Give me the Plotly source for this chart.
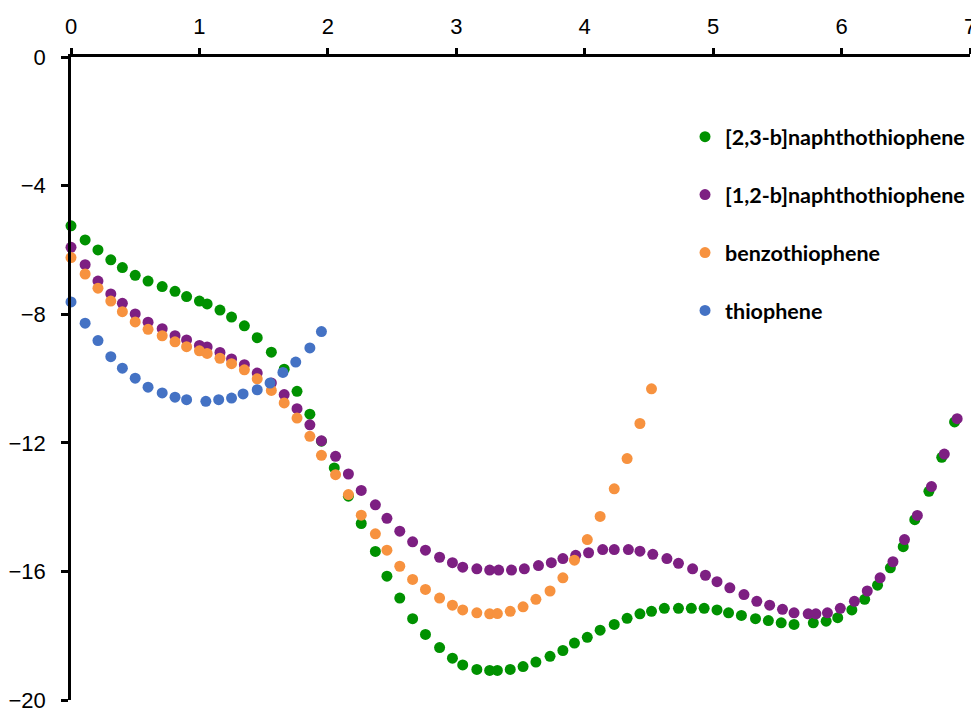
import plotly.graph_objects as go

names = ["[2,3-b]naphthothiophene", "[1,2-b]naphthothiophene", "benzothiophene", "thiophene"]
colors = ["#009100", "#7D1F82", "#F7923F", "#4472C4"]

x_common = [0, 0.11, 0.21, 0.31, 0.40, 0.50, 0.60, 0.71, 0.81, 0.90, 1.00, 1.06, 1.16, 1.25,
            1.35, 1.45, 1.56, 1.66, 1.76, 1.86]

x_n23 = x_common + [1.95, 2.05, 2.16, 2.26, 2.37, 2.46, 2.56, 2.66, 2.76, 2.87,
                    2.97, 3.05, 3.16, 3.26, 3.32, 3.42, 3.52, 3.62, 3.73, 3.83,
                    3.92, 4.02, 4.12, 4.23, 4.33, 4.43, 4.52, 4.62, 4.73, 4.83,
                    4.93, 5.03, 5.12, 5.22, 5.33, 5.43, 5.53, 5.63, 5.78, 5.88,
                    5.97, 6.08, 6.18, 6.28, 6.38, 6.48, 6.57, 6.68, 6.78, 6.88]
y_n23 = [-5.25, -5.69, -6.00, -6.31, -6.55, -6.79, -6.97, -7.14, -7.29, -7.45, -7.59, -7.68,
         -7.87, -8.09, -8.36, -8.73, -9.18, -9.71, -10.40, -11.11,
         -11.95, -12.78, -13.66, -14.51, -15.38, -16.15, -16.83, -17.47, -17.96, -18.37,
         -18.70, -18.91, -19.05, -19.08, -19.08, -19.05, -18.96, -18.82, -18.64, -18.46,
         -18.23, -18.05, -17.83, -17.65, -17.46, -17.32, -17.24, -17.15, -17.15, -17.15,
         -17.15, -17.20, -17.29, -17.37, -17.47, -17.53, -17.60, -17.65, -17.60, -17.55,
         -17.44, -17.20, -16.87, -16.43, -15.89, -15.23, -14.39, -13.51, -12.45, -11.35]

x_n12 = x_common + [1.95, 2.06, 2.16, 2.26, 2.37, 2.46, 2.56, 2.66, 2.76, 2.87,
                    2.97, 3.05, 3.16, 3.26, 3.33, 3.43, 3.53, 3.64, 3.74, 3.83,
                    3.93, 4.03, 4.14, 4.23, 4.34, 4.43, 4.53, 4.64, 4.73, 4.84,
                    4.94, 5.03, 5.13, 5.24, 5.34, 5.44, 5.54, 5.63, 5.74, 5.80,
                    5.89, 5.99, 6.10, 6.20, 6.30, 6.40, 6.49, 6.59, 6.70, 6.80, 6.90]
y_n12 = [-5.92, -6.46, -6.97, -7.37, -7.66, -7.99, -8.25, -8.45, -8.67, -8.80, -8.97, -9.02,
         -9.19, -9.39, -9.57, -9.83, -10.14, -10.50, -10.94, -11.44,
         -11.94, -12.42, -12.97, -13.48, -13.93, -14.35, -14.75, -15.08, -15.34, -15.56,
         -15.73, -15.87, -15.92, -15.96, -15.96, -15.96, -15.92, -15.82, -15.73, -15.60,
         -15.50, -15.42, -15.32, -15.32, -15.32, -15.37, -15.47, -15.60, -15.75, -15.92,
         -16.12, -16.32, -16.51, -16.72, -16.93, -17.05, -17.18, -17.29, -17.32, -17.32,
         -17.29, -17.15, -16.93, -16.61, -16.20, -15.70, -15.01, -14.26, -13.36, -12.35, -11.25]

x_benzo = x_common + [1.95, 2.06, 2.16, 2.26, 2.37, 2.46, 2.56, 2.66, 2.76, 2.87,
                      2.97, 3.05, 3.16, 3.26, 3.32, 3.42, 3.52, 3.62, 3.73, 3.83,
                      3.92, 4.02, 4.12, 4.23, 4.33, 4.43, 4.52]
y_benzo = [-6.24, -6.75, -7.19, -7.59, -7.92, -8.24, -8.47, -8.67, -8.86, -9.01, -9.14, -9.22,
           -9.37, -9.54, -9.73, -10.01, -10.37, -10.76, -11.23, -11.80,
           -12.39, -12.99, -13.61, -14.25, -14.83, -15.34, -15.84, -16.25, -16.56, -16.83,
           -17.05, -17.20, -17.29, -17.32, -17.31, -17.24, -17.10, -16.87, -16.61, -16.20,
           -15.65, -15.01, -14.29, -13.43, -12.49, -11.40, -10.32]

x_thio = [0, 0.11, 0.21, 0.31, 0.40, 0.50, 0.60, 0.71, 0.81, 0.90, 1.05, 1.15, 1.25, 1.34,
          1.45, 1.55, 1.65, 1.75, 1.86, 1.95]
y_thio = [-7.62, -8.28, -8.82, -9.32, -9.68, -9.99, -10.27, -10.45, -10.58, -10.66, -10.71,
          -10.66, -10.61, -10.48, -10.35, -10.14, -9.81, -9.49, -9.05, -8.54]

x_ticks = [0, 1, 2, 3, 4, 5, 6, 7]
y_ticks = [0, -4, -8, -12, -16, -20]

series = [(x_n23, y_n23), (x_n12, y_n12), (x_benzo, y_benzo), (x_thio, y_thio)]

fig = go.Figure()
for i, ((xs, ys), nm, c) in enumerate(zip(series, names, colors)):
    fig.add_trace(go.Scatter(
        x=xs, y=ys, mode="markers", name=nm, legendgroup=f"g{i}",
        marker=dict(color=c, size=11, line=dict(width=0)),
        cliponaxis=False,
    ))

tick_font = dict(family="Liberation Sans, Arial, sans-serif", size=22, color="black")

# the page body adds an 8px offset, so the figure is 8px smaller and margins compensate
fig.update_layout(
    width=971, height=701,
    margin=dict(l=63, r=9, t=49, b=9, autoexpand=False),
    paper_bgcolor="white", plot_bgcolor="white",
    showlegend=True,
    legend=dict(
        x=0.683, y=0.908, xanchor="left", yanchor="top",
        font=dict(family="Lato", size=21.5, color="black", weight="bold"),
        bgcolor="rgba(0,0,0,0)", tracegroupgap=27, traceorder="grouped",
        itemsizing="trace",
    ),
    xaxis=dict(
        range=[0, 7], side="top", tickmode="array", tickvals=x_ticks,
        showgrid=False, zeroline=False, showline=True, linecolor="black", linewidth=2.5,
        ticks="outside", ticklen=6, tickwidth=2.5, tickcolor="black",
        tickfont=tick_font, ticklabelstandoff=5, automargin=False,
        ticklabeloverflow="allow",
    ),
    yaxis=dict(
        range=[-20, 0], tickmode="array", tickvals=y_ticks,
        showgrid=False, zeroline=False, showline=True, linecolor="black", linewidth=2.5,
        ticks="outside", ticklen=7, tickwidth=2.5, tickcolor="black",
        tickfont=tick_font, ticklabelstandoff=11, automargin=False,
        ticklabeloverflow="allow",
    ),
)

fig.write_html("out.html")
